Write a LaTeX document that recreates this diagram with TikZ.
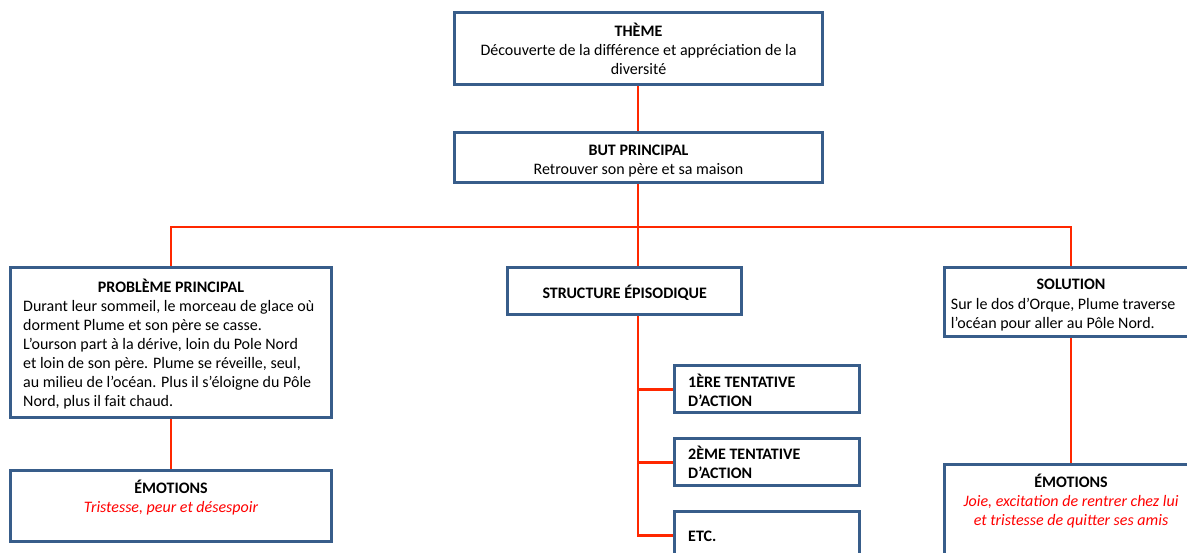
\documentclass[tikz,border=0pt]{standalone}
\usepackage{fontspec}
\setmainfont{Carlito}
\definecolor{boxblue}{RGB}{56,93,138}
\definecolor{linered}{RGB}{255,40,0}
\definecolor{textred}{RGB}{255,0,0}
\begin{document}
\begin{tikzpicture}[x=1pt,y=-1pt,
  box/.style={draw=boxblue,line width=2pt,fill=white,inner sep=0pt,minimum width=#1},
  conn/.style={draw=linered,line width=2.4pt},
  txt/.style={inner sep=0pt,font=\fontsize{16}{19}\selectfont}]
\useasboundingbox (0,0) rectangle (1187,552);
\clip (0,0) rectangle (1187,552);
\fill[white] (0,0) rectangle (1187,552);
% boxes (geometry)
\node[box=367pt,minimum height=71pt] (theme) at (638.5,48.5) {};
\node[box=367pt,minimum height=49pt] (but) at (638.5,157.5) {};
\node[box=320pt,minimum height=149pt] (prob) at (171,342.5) {};
\node[box=320pt,minimum height=70pt] (emoL) at (171,506) {};
\node[box=233pt,minimum height=46pt] (struct) at (624.5,291) {};
\node[box=184pt,minimum height=46pt] (t1) at (767,389.3) {};
\node[box=184pt,minimum height=46pt] (t2) at (767,462.3) {};
\node[box=184pt,minimum height=46pt] (etc) at (767,535.3) {};
\node[box=252pt,minimum height=68pt] (sol) at (1071,302.3) {};
\node[box=252pt,minimum height=94pt] (emoR) at (1071,512) {};
% connectors
\coordinate (bus) at (638,227);
\coordinate (spine) at (638,535.3);
\draw[conn] (theme.south -| bus) -- (but.north -| bus);
\draw[conn] (but.south -| bus) -- (bus);
\draw[conn] (prob.north) |- (bus) -| (sol.north);
\draw[conn] (bus) -- (struct.north -| bus);
\draw[conn] (prob.south) -- (emoL.north);
\draw[conn] (sol.south) -- (emoR.north);
\draw[conn] (struct.south -| spine) -- (spine) -- (etc.west);
\draw[conn] (t1.west -| spine) -- (t1.west);
\draw[conn] (t2.west -| spine) -- (t2.west);
% redraw box borders on top
\foreach \n in {theme,but,prob,emoL,struct,t1,t2,etc,sol,emoR}
  \draw[boxblue,line width=2pt] (\n.north west) rectangle (\n.south east);
% texts
\node[txt,anchor=north,align=center] (themeT) at (638.5,22.7)
  {\strut\textbf{THÈME}\\Découverte de la différence et appréciation de la\\diversité};
\node[txt,anchor=north,align=center] (butT) at (638.5,142.4)
  {\strut\textbf{BUT PRINCIPAL}\\Retrouver son père et sa maison};
\node[txt,anchor=north] (probTitle) at (171,278.4) {\strut\textbf{PROBLÈME PRINCIPAL}};
\node[txt,anchor=north west,align=left] (probT) at (23,297.7)
  {\strut Durant leur sommeil, le morceau de glace où\\dorment Plume et son père se casse.\\L’ourson part à la dérive, loin du Pole Nord\\et loin de son père. Plume se réveille, seul,\\au milieu de l’océan. Plus il s’éloigne du Pôle\\Nord, plus il fait chaud.};
\node[txt,anchor=north,align=center] (emoLT) at (171,479.7)
  {\strut\textbf{ÉMOTIONS}\\\textcolor{textred}{\itshape Tristesse, peur et désespoir}};
\node[txt,anchor=base] (structT) at (624.7,298) {\textbf{STRUCTURE ÉPISODIQUE}};
\node[txt,anchor=north west,align=left] (t1T) at (688,373.4)
  {\strut\textbf{1ÈRE TENTATIVE}\\\textbf{D’ACTION}};
\node[txt,anchor=north west,align=left] (t2T) at (688,445.7)
  {\strut\textbf{2ÈME TENTATIVE}\\\textbf{D’ACTION}};
\node[txt,anchor=base west] (etcT) at (688,541.7) {\textbf{ETC.}};
\node[txt,anchor=north] (solTitle) at (1071,275.7) {\strut\textbf{SOLUTION}};
\node[txt,anchor=north west,align=left] (solT) at (950.7,295.7)
  {\strut Sur le dos d’Orque, Plume traverse\\l’océan pour aller au Pôle Nord.};
\node[txt,anchor=north,align=center] (emoRT) at (1071,473.4)
  {\strut\textbf{ÉMOTIONS}\\\textcolor{textred}{\itshape Joie, excitation de rentrer chez lui}\\\textcolor{textred}{\itshape et tristesse de quitter ses amis}};
\end{tikzpicture}
\end{document}
